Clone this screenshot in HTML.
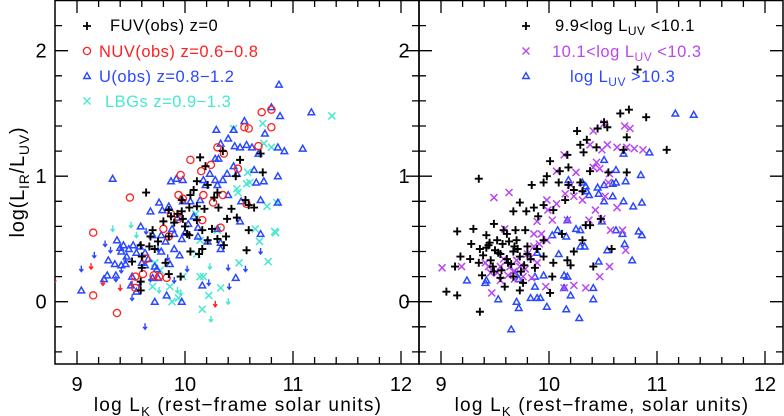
<!DOCTYPE html>
<html><head><meta charset="utf-8"><style>
html,body{margin:0;padding:0;background:#fff;}
svg{display:block;font-family:"Liberation Sans",sans-serif;}
</style></head><body>
<div style="position:relative;width:784px;height:416px;">
<svg id="chart" width="784" height="416" viewBox="0 0 784 416" xmlns="http://www.w3.org/2000/svg" style="position:absolute;left:0;top:0"></svg>
<script>
// ---- Left panel data ----
const fuvX=[9.64,10.35,10.14,10.19,10.51,10.72,10.70,10.47,10.11,10.21,10.08,10.05,9.97,10.30,10.27,9.97,10.04,10.11,10.18,10.31,10.43,10.56,10.59,10.64,9.85,9.87,9.80,9.90,9.98,10.11,10.39,10.48,10.02,10.04,10.16,10.25,10.38,10.59,9.70,9.68,9.85,10.21,10.30,10.36,10.16,10.05,10.13,9.59,9.67,9.72,9.60,9.51,9.82,10.57,9.60,9.85,9.96,9.59,9.59,9.75,9.93,10.00];
const fuvY=[0.87,1.20,1.15,1.08,1.13,1.03,1.18,1.00,0.96,0.93,0.89,0.85,0.81,0.87,0.83,0.72,0.75,0.76,0.74,0.75,0.74,0.81,0.77,0.75,0.73,0.68,0.64,0.63,0.66,0.65,0.66,0.67,0.54,0.53,0.57,0.58,0.52,0.57,0.57,0.52,0.52,0.49,0.50,0.45,0.42,0.40,0.38,0.45,0.44,0.42,0.36,0.32,0.31,0.41,0.27,0.22,0.20,0.16,0.09,0.48,0.70,0.60];
const nuvX=[9.15,9.49,9.15,9.37,10.71,10.80,10.80,10.55,10.59,10.68,10.30,10.36,10.05,10.24,10.15,10.49,9.96,9.94,9.98,10.17,10.26,10.35,9.87,9.94,10.16,10.33,9.80,9.85,9.54,9.61,9.71,9.83,9.54,10.57,9.64,9.76];
const nuvY=[0.55,0.83,0.05,-0.09,1.51,1.53,1.39,1.39,1.38,1.24,1.23,1.18,1.13,1.09,1.04,1.06,1.01,0.85,0.82,0.85,0.79,0.85,0.70,0.66,0.65,0.59,0.58,0.52,0.20,0.22,0.21,0.19,0.11,0.78,0.34,0.20];
const uX=[9.33,10.87,10.80,10.88,11.17,11.09,10.92,10.86,10.74,10.55,10.29,10.45,10.40,10.33,10.46,10.51,10.57,10.62,10.68,10.28,10.31,10.45,10.39,10.23,10.17,10.28,10.35,10.48,10.64,10.73,10.86,10.66,9.87,9.92,9.98,10.19,10.30,10.40,10.52,10.70,10.86,9.76,9.68,9.79,9.85,9.98,10.05,10.14,9.93,10.03,10.12,10.30,10.51,10.70,9.59,9.70,9.78,9.90,9.97,10.12,10.21,10.33,9.37,9.43,9.48,9.52,9.41,9.55,9.63,9.78,9.90,9.95,9.29,9.35,9.41,9.45,9.63,9.72,9.36,9.28,9.25,9.51,9.70,9.75,9.04,9.50,9.55,9.83,9.72,9.97,10.16,10.47,10.33,9.46,9.58,9.66,9.82,9.88,9.40,9.60,9.74,9.86,10.00,10.08];
const uY=[0.98,1.73,1.55,1.48,1.51,1.22,1.20,1.23,1.34,1.44,1.37,1.37,1.30,1.26,1.24,1.23,1.25,1.23,1.18,1.14,1.14,1.08,1.02,1.02,0.97,0.97,0.97,1.02,1.05,0.96,1.00,0.95,0.96,0.98,0.97,0.93,0.93,0.85,0.80,0.81,0.79,0.79,0.72,0.73,0.76,0.80,0.80,0.81,0.67,0.62,0.59,0.58,0.64,0.54,0.60,0.53,0.53,0.54,0.50,0.52,0.48,0.42,0.49,0.45,0.42,0.45,0.40,0.39,0.39,0.40,0.42,0.37,0.33,0.30,0.29,0.30,0.29,0.28,0.21,0.21,0.18,0.20,0.19,0.19,0.09,0.13,0.08,0.05,0.00,0.00,0.13,0.19,0.47,0.36,0.44,0.34,0.48,0.58,0.43,0.31,0.26,0.30,0.55,0.68];
const lbgX=[11.36,10.72,10.45,10.73,10.80,10.58,10.60,10.57,10.48,10.49,10.85,10.76,10.83,10.84,10.65,10.69,10.77,10.50,10.30,10.10,10.14,10.11,10.14,10.17,10.22,10.16,10.33,9.94,9.88,9.72,9.77,9.86,9.70,9.98];
const lbgY=[1.48,1.42,1.38,1.26,1.23,1.03,0.95,0.94,0.90,0.87,0.79,0.76,0.56,0.55,0.58,0.48,0.32,0.31,0.57,0.70,0.49,0.38,0.20,0.20,0.05,-0.06,0.11,0.03,0.00,0.31,0.25,0.12,0.12,0.20];
const blueArrX=[9.04,9.16,9.26,9.31,9.36,9.41,9.51,9.63,9.68,9.90,10.02,10.22,10.40,10.41,10.56,10.70,9.75,9.64,9.45,9.58,9.84];
const blueArrY=[0.24,0.35,0.44,0.39,0.16,0.23,0.01,-0.22,0.16,0.15,0.24,0.13,0.25,0.10,0.24,0.38,0.40,0.54,0.31,0.12,0.33];
const redArrX=[8.79,9.13,9.24,9.40,10.28,9.51];
const redArrY=[0.15,0.26,0.13,0.09,-0.04,0.12];
const cyanArrX=[9.33,9.50,9.55,10.23,9.96,10.24,10.40,9.76,9.93];
const cyanArrY=[0.56,0.59,0.51,0.26,0.05,-0.16,-0.02,0.07,0.07];
// ---- Right panel data ----
const r1X=[9.35,9.05,9.15,9.36,9.15,9.30,9.28,9.18,9.13,9.27,10.66,10.74,10.90,11.09,10.82,10.51,10.45,10.54,10.26,10.35,10.29,10.72,10.69,10.44,10.17,10.32,10.01,10.10,10.18,9.98,9.84,9.95,10.09,10.18,10.29,10.38,10.55,10.72,9.73,9.67,9.79,9.86,9.95,10.04,10.15,10.23,10.31,10.38,10.48,9.90,9.49,9.58,9.42,9.44,9.52,9.61,9.69,9.78,9.70,9.80,9.36,9.39,9.35,9.46,9.55,9.61,9.67,9.73,9.83,9.38,9.49,9.55,9.59,9.67,9.73,9.76,9.87,9.95,10.04,10.20,10.23,10.31,10.34,10.41,10.58,10.01,10.03,9.89,9.95,10.12,10.17,9.45,9.50,9.57,9.63,9.65,9.71,9.77,9.48,9.53,9.62,9.74,9.80,9.42,9.56,9.68];
const r1Y=[0.98,0.08,0.05,-0.08,0.56,0.58,0.46,0.36,0.28,0.34,1.50,1.53,1.47,1.21,1.85,1.43,1.38,1.39,1.36,1.29,1.25,1.31,1.21,1.23,1.17,1.19,1.12,1.04,1.07,1.00,0.93,0.95,0.95,0.93,0.95,1.04,1.03,1.03,0.79,0.72,0.72,0.75,0.77,0.73,0.81,0.89,0.88,0.61,0.66,0.68,0.62,0.57,0.53,0.45,0.49,0.54,0.57,0.57,0.49,0.44,0.42,0.37,0.31,0.33,0.38,0.34,0.40,0.36,0.34,0.21,0.24,0.19,0.12,0.20,0.09,0.15,0.27,0.36,0.31,0.29,0.40,0.49,0.61,0.28,0.42,0.07,0.20,0.42,0.49,0.54,0.33,0.47,0.41,0.46,0.48,0.30,0.42,0.29,0.28,0.39,0.31,0.24,0.38,0.43,0.25,0.44];
const r2X=[9.01,9.19,9.49,9.63,10.51,10.41,10.38,10.54,10.49,10.63,10.70,10.75,10.72,10.79,10.87,10.14,10.07,10.25,10.41,10.47,10.44,10.55,10.56,10.20,10.15,10.23,10.31,10.52,10.63,10.43,10.37,10.49,10.07,9.98,9.99,10.03,10.17,9.89,9.93,9.86,9.98,9.86,9.80,9.89,9.73,9.84,9.76,9.67,9.55,9.55,9.47,9.41,9.46,9.59,9.64,9.70,10.71,10.68,10.57,10.56,10.47,10.23,10.34,10.14,9.97,9.52,9.58,9.62,9.78,9.83,9.44,9.68,9.91];
const r2Y=[0.27,0.28,0.83,0.87,1.42,1.36,1.25,1.25,1.21,1.23,1.40,1.38,1.23,1.22,1.21,1.17,1.04,1.03,1.07,1.06,1.11,0.95,1.02,0.93,0.86,0.84,0.81,0.84,0.75,0.73,0.65,0.66,0.78,0.81,0.73,0.65,0.65,0.64,0.54,0.54,0.49,0.44,0.38,0.31,0.28,0.19,0.20,0.24,0.28,0.17,0.07,0.31,0.23,0.58,0.28,0.33,0.41,0.57,0.57,0.28,0.20,0.13,0.11,0.11,0.12,0.23,0.34,0.21,0.26,0.35,0.28,0.18,0.46];
const r3X=[11.17,11.34,10.93,10.69,10.51,10.62,10.85,10.71,10.62,10.59,10.51,10.45,10.31,10.34,10.35,10.46,10.59,10.51,10.69,10.78,10.86,10.37,10.18,10.17,10.25,10.29,10.16,10.03,10.08,10.29,10.33,10.49,10.62,10.68,10.83,10.86,10.70,10.77,10.54,10.46,10.09,9.89,10.14,10.17,9.95,9.87,10.14,10.20,10.41,10.41,9.98,10.16,10.28,9.65,9.72,9.70,9.53,9.83,9.89,9.92,9.24,9.41,9.42,9.69,9.72,9.87];
const r3Y=[1.50,1.49,1.19,1.18,1.13,1.05,1.01,0.96,0.95,0.94,0.93,0.91,0.95,0.92,0.88,0.86,0.84,0.80,0.80,0.76,0.79,0.85,0.97,0.65,0.58,0.57,0.52,0.53,0.57,0.44,0.44,0.64,0.57,0.54,0.56,0.53,0.46,0.33,0.41,0.32,0.38,0.39,0.21,0.20,0.21,0.12,0.11,0.05,0.11,0.02,-0.04,-0.06,-0.13,-0.22,-0.05,0.00,0.02,0.03,0.03,0.03,0.17,0.15,0.17,0.22,0.18,0.20];
const xTicks=[9,10,11,12];
const yTicks=[0,1,2];

const NS='http://www.w3.org/2000/svg';
const svg=document.getElementById('chart');
const TOP=0,BOT=364;
function yS(v){return 301.7-v*125.5;}
const panels=[{left:55,right:419,x0:77,x1:185},{left:419,right:783,x0:441,x1:549}];
function xS(p,v){const P=panels[p];return P.x0+(v-9)*(P.x1-P.x0);}
function el(tag,attrs,parent){const e=document.createElementNS(NS,tag);for(const k in attrs)e.setAttribute(k,attrs[k]);(parent||svg).appendChild(e);return e;}
function txt(x,y,s,attrs,parent){const t=el('text',Object.assign({x:x,y:y},attrs),parent);t.textContent=s;return t;}

const BLUE='#2a48ff',RED='#ff2020',CYAN='#48e8d0',PURP='#b848f0',BLK='#000';

function plus(g,x,y,c){el('path',{d:`M${x-4} ${y}H${x+4}M${x} ${y-4}V${y+4}`,stroke:c,'stroke-width':1.9,fill:'none'},g);}
function circ(g,x,y,c){el('circle',{cx:x,cy:y,r:3.6,stroke:c,'stroke-width':1.3,fill:'none'},g);}
function tri(g,x,y,c){el('path',{d:`M${x-3.3} ${y+2.5}L${x+3.3} ${y+2.5}L${x} ${y-3.3}Z`,stroke:c,'stroke-width':1.5,fill:'none'},g);}
function cross(g,x,y,c){el('path',{d:`M${x-3.5} ${y-3.5}L${x+3.5} ${y+3.5}M${x-3.5} ${y+3.5}L${x+3.5} ${y-3.5}`,stroke:c,'stroke-width':1.5,fill:'none'},g);}
function arrow(g,x,y,c){el('path',{d:`M${x} ${y-6}V${y}M${x-2} ${y-2.5}L${x} ${y}L${x+2} ${y-2.5}`,stroke:c,'stroke-width':1.4,fill:'none'},g);}

function series(p,xs,ys,fn,c,name){
  const g=el('g',{'clip-path':`url(#clip${p})`});
  
  
  for(let i=0;i<xs.length;i++){fn(g,xS(p,xs[i]),yS(ys[i]),c);}
}
const defs=el('defs',{});
panels.forEach((P,i)=>{const cp=el('clipPath',{id:'clip'+i},defs);el('rect',{x:P.left,y:TOP,width:P.right-P.left,height:BOT-TOP},cp);});

panels.forEach((P,p)=>{
  const g=el('g',{});
  
  
  el('rect',{x:P.left,y:TOP+0.5,width:P.right-P.left,height:BOT-TOP-0.5,fill:'none',stroke:'#000','stroke-width':1.5},g);
  let d='';
  for(let k=0;k<=17;k++){const v=8.8+k*0.2;const x=xS(p,v);if(x<P.left+1||x>P.right-1)continue;
    const major=Math.abs(v-Math.round(v))<1e-6;const L=major?13:7;
    d+=`M${x} ${BOT}V${BOT-L}M${x} ${TOP}V${TOP+L}`;}
  for(let k=-2;k<=12;k++){const v=k*0.2;const y=yS(v);if(y<TOP+1||y>BOT-1)continue;
    const major=Math.abs(v-Math.round(v))<1e-6;const L=major?13:7;
    d+=`M${P.left} ${y}H${P.left+L}M${P.right} ${y}H${P.right-L}`;}
  el('path',{d:d,stroke:'#000','stroke-width':1.3,fill:'none'},g);
  xTicks.forEach(v=>{const t=txt(xS(p,v),391,String(v),{'font-size':20,'text-anchor':'middle',fill:'#000'},g);});
});
yTicks.forEach(v=>{
  const t=txt(41,yS(v)+7,String(v),{'font-size':20,'text-anchor':'middle'});
  
  const t2=txt(404,yS(v)+7,String(v),{'font-size':20,'text-anchor':'middle'});
  
});

series(0,blueArrX,blueArrY,arrow,BLUE,'u-upper-limits');
series(0,redArrX,redArrY,arrow,RED,'nuv-upper-limits');
series(0,cyanArrX,cyanArrY,arrow,CYAN,'lbg-upper-limits');
series(0,lbgX,lbgY,cross,CYAN,'lbg-points');
series(0,uX,uY,tri,BLUE,'u-obs-points');
series(0,nuvX,nuvY,circ,RED,'nuv-obs-points');
series(0,fuvX,fuvY,plus,BLK,'fuv-obs-points');
series(1,r3X,r3Y,tri,BLUE,'luv-high-points');
series(1,r2X,r2Y,cross,PURP,'luv-mid-points');
series(1,r1X,r1Y,plus,BLK,'luv-low-points');
</script>
<svg width="784" height="416" style="position:absolute;left:0;top:0">
  <g font-size="16.5" font-family="Liberation Sans, sans-serif" letter-spacing="0.5">
    <g>
      <path d="M83 26H91M87 22V30" stroke="#000" stroke-width="1.8"/>
      <text x="110" y="31" fill="#000">FUV(obs)  z=0</text>
      <circle cx="87" cy="51" r="3.6" stroke="#ff2020" stroke-width="1.3" fill="none"/>
      <text x="99" y="57" fill="#ff2020">NUV(obs)  z=0.6−0.8</text>
      <path d="M83.7 78.5L90.3 78.5L87 72.7Z" stroke="#2a48ff" stroke-width="1.4" fill="none"/>
      <text x="99" y="82" fill="#2a48ff">U(obs)  z=0.8−1.2</text>
      <path d="M83.5 97.5L90.5 104.5M83.5 104.5L90.5 97.5" stroke="#48e8d0" stroke-width="1.4"/>
      <text x="105" y="107" fill="#48e8d0">LBGs  z=0.9−1.3</text>
    </g>
    <g>
      <path d="M522 26H530M526 22V30" stroke="#000" stroke-width="1.8"/>
      <text x="555" y="31" fill="#000">9.9&lt;log  L<tspan font-size="12" dy="4">UV</tspan><tspan dy="-4">  &lt;10.1</tspan></text>
      <path d="M522.5 47.5L529.5 54.5M522.5 54.5L529.5 47.5" stroke="#b848f0" stroke-width="1.4"/>
      <text x="552" y="57" fill="#b848f0">10.1&lt;log  L<tspan font-size="12" dy="4">UV</tspan><tspan dy="-4">  &lt;10.3</tspan></text>
      <path d="M522.7 78.5L529.3 78.5L526 72.7Z" stroke="#2a48ff" stroke-width="1.4" fill="none"/>
      <text x="570" y="82" fill="#2a48ff">log  L<tspan font-size="12" dy="4">UV</tspan><tspan dy="-4">  &gt;10.3</tspan></text>
    </g>
  </g>
  <text x="238" y="411" font-size="19" text-anchor="middle" letter-spacing="1.2">log  L<tspan font-size="13" dy="5">K</tspan><tspan dy="-5">  (rest−frame  solar  units)</tspan></text>
  <text x="602" y="411" font-size="19" text-anchor="middle" letter-spacing="1.2">log  L<tspan font-size="13" dy="5">K</tspan><tspan dy="-5">  (rest−frame,  solar  units)</tspan></text>
  <text transform="translate(24,182) rotate(-90)" font-size="20" text-anchor="middle" letter-spacing="0.8">log(L<tspan font-size="14" dy="5">IR</tspan><tspan dy="-5">/L</tspan><tspan font-size="14" dy="5">UV</tspan><tspan dy="-5">)</tspan></text>
</svg>
</div>
</body></html>
